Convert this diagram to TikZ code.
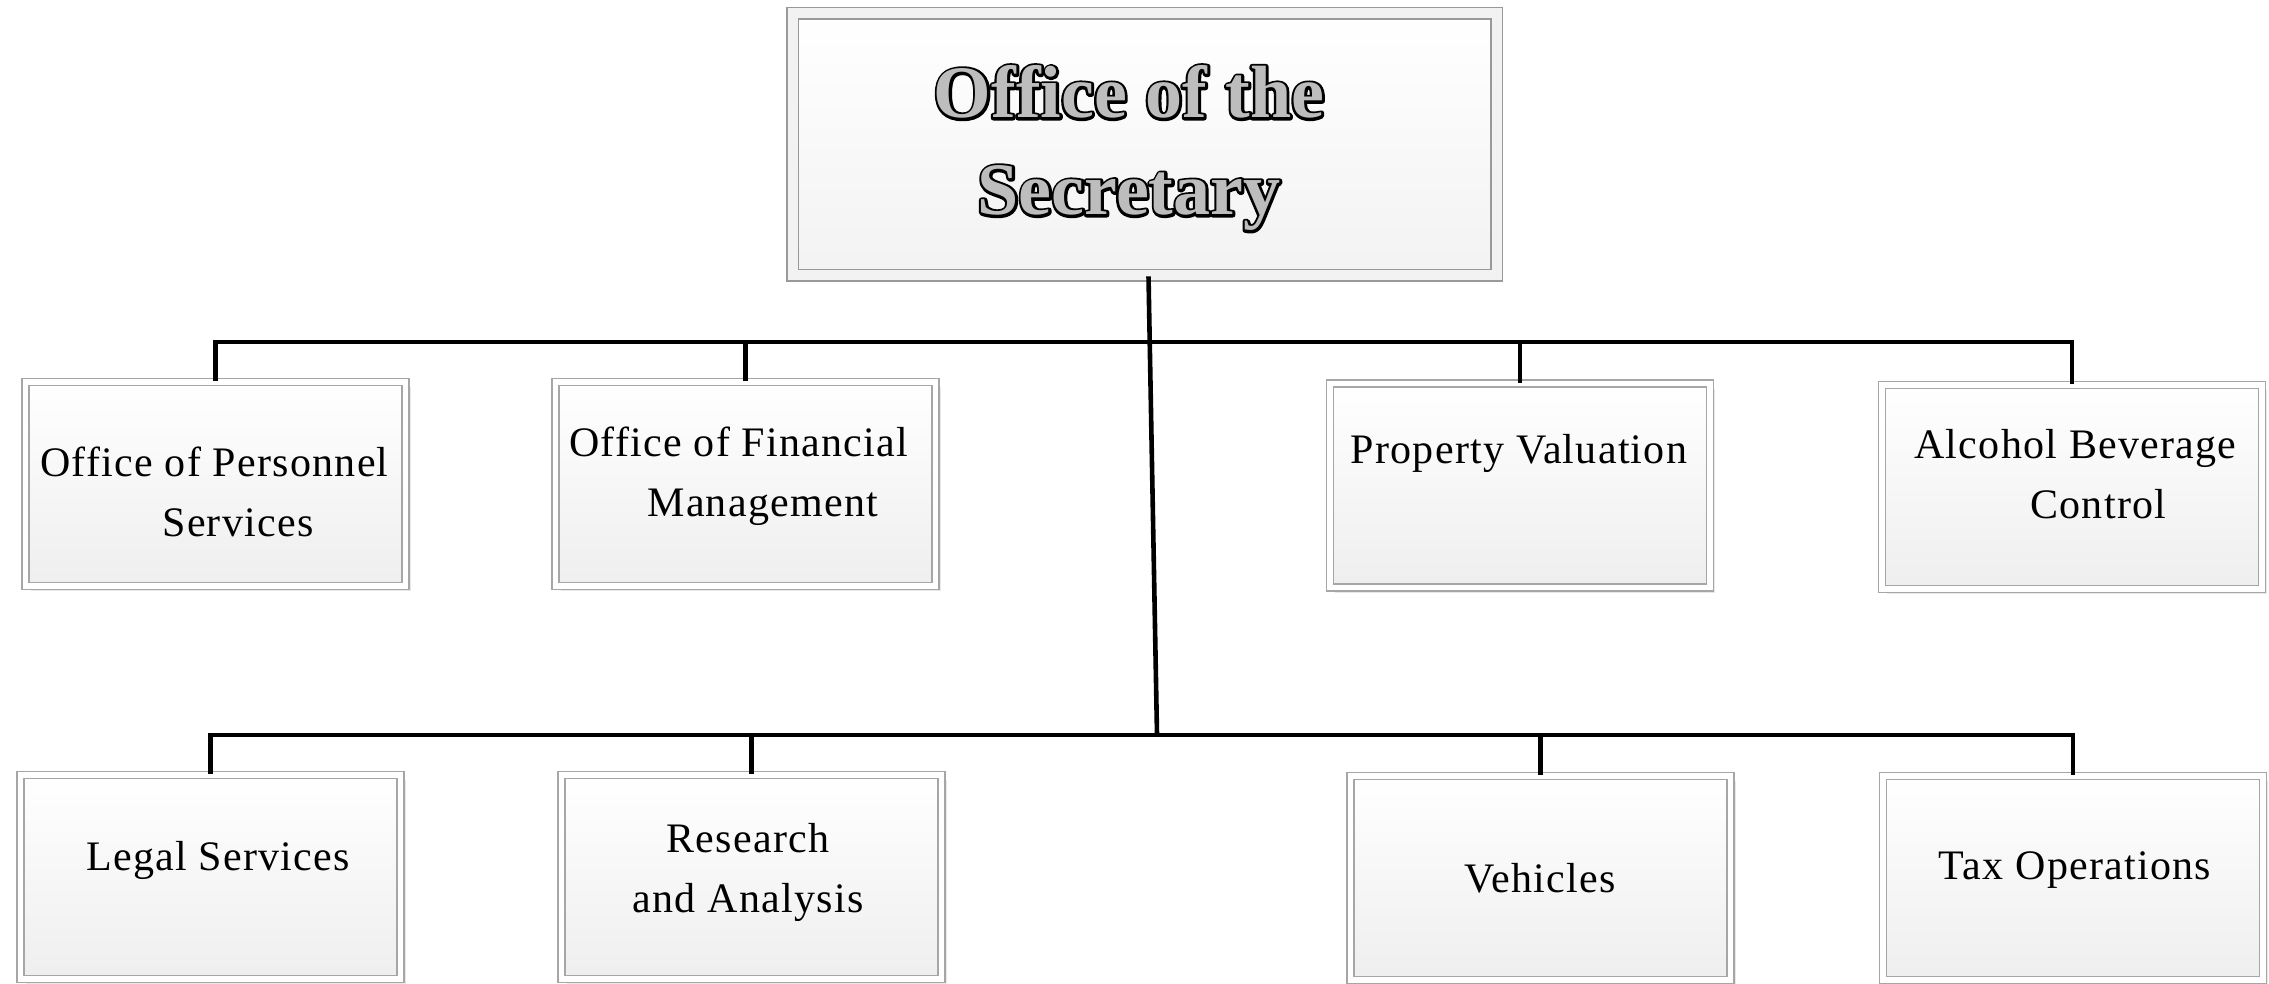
\documentclass[tikz,border=0pt]{standalone}
\usepackage{fontspec}
\setmainfont{Liberation Serif}
\newfontfamily\boxfont[LetterSpace=3]{Liberation Serif}
\newcommand{\outlinedtext}[1]{\rlap{\special{pdf:literal direct 0 G 0 g 1 Tr 2.6 w 1 j}#1\special{pdf:literal direct 0 Tr 0 j}}{\color[gray]{0.74}#1}}
\usetikzlibrary{shadows}
\begin{document}
\begin{tikzpicture}[x=0.5pt,y=-0.5pt,
  unitbox/.style={draw=gray!70, line width=0.9pt, double=white, double distance=2.6pt,
    top color=white, bottom color=gray!13, minimum width=190pt, minimum height=102pt,
    inner sep=0pt, drop shadow={shadow xshift=2.5pt, shadow yshift=-2.5pt, opacity=0.18}},
  headbox/.style={draw=gray!80, line width=0.8pt, double=gray!10, double distance=5pt,
    top color=white, bottom color=gray!10, minimum width=352pt, minimum height=131pt,
    inner sep=0pt, drop shadow={shadow xshift=2pt, shadow yshift=-2pt, opacity=0.15}},
  lbl/.style={font=\boxfont\fontsize{21}{30}\selectfont, text=black, inner sep=0pt},
  headlbl/.style={font=\fontsize{37}{48.5}\selectfont\bfseries, inner sep=0pt},
  conn/.style={draw=black, line width=2.3pt}]
\useasboundingbox (0,0) rectangle (2269,984);

% boxes
\node[headbox] (top) at (1144.5,144.5) {};
\node[unitbox] (A) at (215.5,484) {};
\node[unitbox] (B) at (745.5,484) {};
\node[unitbox] (C) at (1520,485.5) {};
\node[unitbox] (D) at (2072,487) {};
\node[unitbox] (E) at (210.5,877) {};
\node[unitbox] (F) at (751.5,877) {};
\node[unitbox] (G) at (1540.5,878) {};
\node[unitbox] (H) at (2073,878) {};

% junctions
\coordinate (j1) at (1150,342);
\coordinate (j2) at (1157,735);

% connectors
\draw[conn] ([xshift=2pt]top.south) -- (j2);
\draw[conn] (A.north) |- (j1) -| (D.north);
\draw[conn] (B.north) |- (j1);
\draw[conn] (C.north) |- (j1);
\draw[conn] (E.north) |- (j2) -| (H.north);
\draw[conn] (F.north) |- (j2);
\draw[conn] (G.north) |- (j2);

% texts
\node[headlbl] (tTop) at (1129,147) {\outlinedtext{\begin{tabular}{@{}c@{}}Office of the\\Secretary\end{tabular}}};
\node[lbl, align=left, anchor=west] (tA) at (40,492) {Office of Personnel\\\hspace*{61pt}Services};
\node[lbl, align=left, anchor=west] (tB) at (569,476) {Office of Financial\\\hspace*{39pt}Management};
\node[lbl] (tC) at (1519,453) {Property Valuation};
\node[lbl, align=left, anchor=west] (tD) at (1914,474) {Alcohol Beverage\\\hspace*{58pt}Control};
\node[lbl] (tE) at (218,860) {Legal Services};
\node[lbl, align=center] (tF) at (748,872) {Research\\and Analysis};
\node[lbl] (tG) at (1540,878) {Vehicles};
\node[lbl] (tH) at (2075,870) {Tax Operations};
\end{tikzpicture}
\end{document}
